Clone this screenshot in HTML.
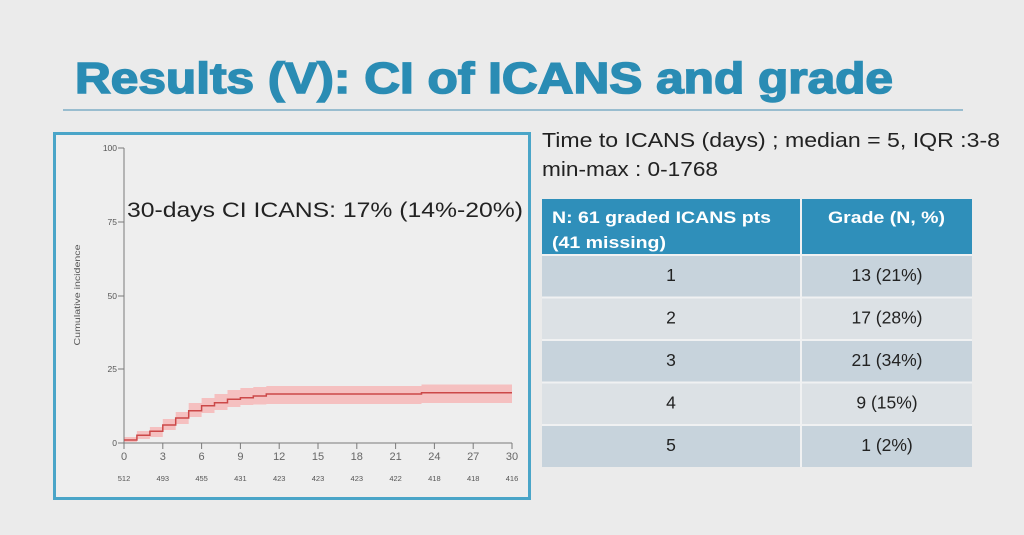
<!DOCTYPE html>
<html>
<head>
<meta charset="utf-8">
<style>
  html,body{margin:0;padding:0;background:#ebebeb;}
  body{width:1024px;height:535px;overflow:hidden;}
  svg{display:block;}
  text{font-family:"Liberation Sans", Arial, sans-serif;}
</style>
</head>
<body>
<svg width="1024" height="535" viewBox="0 0 1024 535" xmlns="http://www.w3.org/2000/svg">
  <rect x="0" y="0" width="1024" height="535" fill="#ebebeb"/>

  <!-- Title -->
  <text x="75" y="93" font-size="44" font-weight="bold" fill="#2a8cb4" stroke="#2a8cb4" stroke-width="1.6" textLength="818" lengthAdjust="spacingAndGlyphs">Results (V): CI of ICANS and grade</text>
  <line x1="63" y1="110" x2="963" y2="110" stroke="#7eaec6" stroke-width="1.5"/>

  <!-- Chart panel -->
  <rect x="54.5" y="133.5" width="475" height="365" fill="#eeeeee" stroke="#4aa5c8" stroke-width="3"/>

  <!-- CI band -->
  <path d="M124,437 H136.9 V431 H149.9 V427 H162.8 V419 H175.7 V412 H188.7 V403 H201.6 V398 H214.5 V394 H227.5 V390 H240.4 V388 H253.3 V387 H266.3 V386 H421.5 V384.5 H512 V403 H421.5 V404 H266.3 V404.5 H253.3 V405 H240.4 V407 H227.5 V410 H214.5 V413 H201.6 V417 H188.7 V424 H175.7 V430 H162.8 V437 H149.9 V439 H136.9 V442 H124 Z" fill="#f7b0b0" opacity="0.75"/>

  <!-- axes -->
  <g stroke="#7a7a7a" stroke-width="1" fill="none">
    <line x1="124" y1="148" x2="124" y2="443"/>
    <line x1="124" y1="443" x2="512" y2="443"/>
    <line x1="118" y1="148" x2="124" y2="148"/>
    <line x1="118" y1="222" x2="124" y2="222"/>
    <line x1="118" y1="296" x2="124" y2="296"/>
    <line x1="118" y1="369" x2="124" y2="369"/>
    <line x1="118" y1="443" x2="124" y2="443"/>
    <line x1="124" y1="443" x2="124" y2="449"/>
    <line x1="162.8" y1="443" x2="162.8" y2="449"/>
    <line x1="201.6" y1="443" x2="201.6" y2="449"/>
    <line x1="240.4" y1="443" x2="240.4" y2="449"/>
    <line x1="279.2" y1="443" x2="279.2" y2="449"/>
    <line x1="318" y1="443" x2="318" y2="449"/>
    <line x1="356.8" y1="443" x2="356.8" y2="449"/>
    <line x1="395.6" y1="443" x2="395.6" y2="449"/>
    <line x1="434.4" y1="443" x2="434.4" y2="449"/>
    <line x1="473.2" y1="443" x2="473.2" y2="449"/>
    <line x1="512" y1="443" x2="512" y2="449"/>
  </g>

  <!-- line -->
  <path d="M124,440 H136.9 V435.3 H149.9 V431.3 H162.8 V425 H175.7 V418 H188.7 V410.7 H201.6 V405.7 H214.5 V402.7 H227.5 V399.3 H240.4 V397.7 H253.3 V396 H266.3 V394 H421.5 V392.8 H512" fill="none" stroke="#cc4848" stroke-width="1.5"/>

  <!-- y tick labels -->
  <g font-size="8.5" fill="#555" text-anchor="end">
    <text x="117" y="151">100</text>
    <text x="117" y="225">75</text>
    <text x="117" y="299">50</text>
    <text x="117" y="372">25</text>
    <text x="117" y="446">0</text>
  </g>
  <text transform="translate(80,295) rotate(-90)" font-size="8.5" fill="#555" text-anchor="middle" textLength="101" lengthAdjust="spacingAndGlyphs">Cumulative incidence</text>

  <!-- x tick labels -->
  <g font-size="11" fill="#666" text-anchor="middle">
    <text x="124" y="460">0</text>
    <text x="162.8" y="460">3</text>
    <text x="201.6" y="460">6</text>
    <text x="240.4" y="460">9</text>
    <text x="279.2" y="460">12</text>
    <text x="318" y="460">15</text>
    <text x="356.8" y="460">18</text>
    <text x="395.6" y="460">21</text>
    <text x="434.4" y="460">24</text>
    <text x="473.2" y="460">27</text>
    <text x="512" y="460">30</text>
  </g>
  <g font-size="7.5" fill="#555" text-anchor="middle">
    <text x="124" y="481">512</text>
    <text x="162.8" y="481">493</text>
    <text x="201.6" y="481">455</text>
    <text x="240.4" y="481">431</text>
    <text x="279.2" y="481">423</text>
    <text x="318" y="481">423</text>
    <text x="356.8" y="481">423</text>
    <text x="395.6" y="481">422</text>
    <text x="434.4" y="481">418</text>
    <text x="473.2" y="481">418</text>
    <text x="512" y="481">416</text>
  </g>

  <!-- annotation -->
  <text x="127" y="217" font-size="21.5" fill="#222" textLength="396" lengthAdjust="spacingAndGlyphs">30-days CI ICANS: 17% (14%-20%)</text>

  <!-- right text -->
  <text x="542" y="147" font-size="20.3" fill="#222" textLength="458" lengthAdjust="spacingAndGlyphs">Time to ICANS (days) ; median = 5, IQR :3-8</text>
  <text x="542" y="176" font-size="20.3" fill="#222" textLength="176" lengthAdjust="spacingAndGlyphs">min-max : 0-1768</text>

  <!-- table -->
  <rect x="542" y="199" width="430" height="268" fill="#f0f1f2"/>
  <rect x="542" y="199" width="258" height="55" fill="#2f8fba"/>
  <rect x="802" y="199" width="170" height="55" fill="#2f8fba"/>

  <rect x="542" y="256" width="258" height="40.5" fill="#c7d3dc"/>
  <rect x="802" y="256" width="170" height="40.5" fill="#c7d3dc"/>
  <rect x="542" y="298.5" width="258" height="40.5" fill="#dce1e5"/>
  <rect x="802" y="298.5" width="170" height="40.5" fill="#dce1e5"/>
  <rect x="542" y="341" width="258" height="40.5" fill="#c7d3dc"/>
  <rect x="802" y="341" width="170" height="40.5" fill="#c7d3dc"/>
  <rect x="542" y="383.5" width="258" height="40.5" fill="#dce1e5"/>
  <rect x="802" y="383.5" width="170" height="40.5" fill="#dce1e5"/>
  <rect x="542" y="426" width="258" height="41" fill="#c7d3dc"/>
  <rect x="802" y="426" width="170" height="41" fill="#c7d3dc"/>

  <g font-size="16.5" font-weight="bold" fill="#ffffff">
    <text x="552" y="223" textLength="219" lengthAdjust="spacingAndGlyphs">N: 61 graded ICANS pts</text>
    <text x="552" y="248" textLength="114" lengthAdjust="spacingAndGlyphs">(41 missing)</text>
    <text x="828" y="223" textLength="117" lengthAdjust="spacingAndGlyphs">Grade (N, %)</text>
  </g>

  <g font-size="17.5" fill="#222" text-anchor="middle">
    <text x="671" y="281">1</text>
    <text x="887" y="281">13 (21%)</text>
    <text x="671" y="323.5">2</text>
    <text x="887" y="323.5">17 (28%)</text>
    <text x="671" y="366">3</text>
    <text x="887" y="366">21 (34%)</text>
    <text x="671" y="408.5">4</text>
    <text x="887" y="408.5">9 (15%)</text>
    <text x="671" y="451">5</text>
    <text x="887" y="451">1 (2%)</text>
  </g>
</svg>
</body>
</html>
